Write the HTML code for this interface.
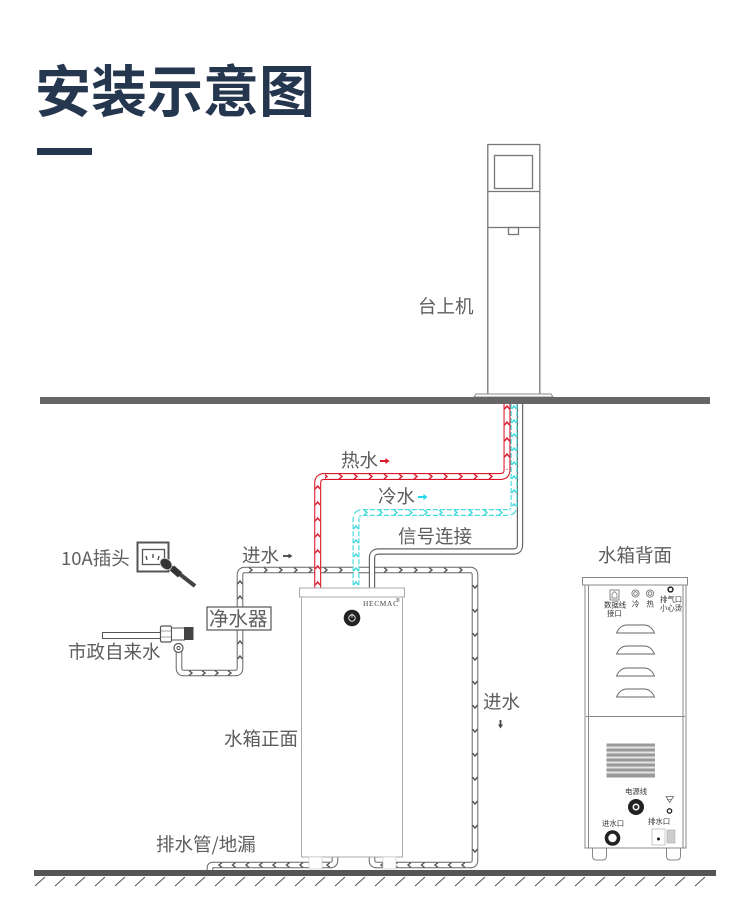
<!DOCTYPE html>
<html><head><meta charset="utf-8"><style>
html,body{margin:0;padding:0;background:#fff;width:750px;height:922px;overflow:hidden}
svg{display:block}
text{font-family:"Noto Sans CJK SC","Liberation Sans",sans-serif;fill:#5e5e5e}
</style></head><body>
<svg width="750" height="922" viewBox="0 0 750 922" xmlns="http://www.w3.org/2000/svg">
<defs>
<pattern id="pH" patternUnits="userSpaceOnUse" x="320" y="474" width="15" height="5"><path d="M4 0l3 2.5l-3 2.5" fill="none" stroke="#d8182a" stroke-width="1.4"/></pattern>
<pattern id="pHv" patternUnits="userSpaceOnUse" x="315.2" y="400" width="5" height="16"><path d="M0 9l2.5-3l2.500 3" fill="none" stroke="#d8182a" stroke-width="1.4"/></pattern>
<pattern id="pHv2" patternUnits="userSpaceOnUse" x="504.5" y="400" width="5" height="16"><path d="M0 9l2.5-3l2.5 3" fill="none" stroke="#d8182a" stroke-width="1.4"/></pattern>
<pattern id="pC" patternUnits="userSpaceOnUse" x="360" y="510" width="15" height="5"><path d="M4 0l3 2.5l-3 2.5" fill="none" stroke="#3fd8d8" stroke-width="1.4"/></pattern>
<pattern id="pCv" patternUnits="userSpaceOnUse" x="353.5" y="520" width="5" height="14"><path d="M0 9l2.5-3l2.5 3" fill="none" stroke="#3fd8d8" stroke-width="1.4"/></pattern>
<pattern id="pCv2" patternUnits="userSpaceOnUse" x="511.5" y="400" width="5" height="14"><path d="M0 9l2.5-3l2.5 3" fill="none" stroke="#3fd8d8" stroke-width="1.4"/></pattern>
<pattern id="pG" patternUnits="userSpaceOnUse" x="245" y="567.500" width="15" height="5"><path d="M4 0l3 2.5l-3 2.5" fill="none" stroke="#555" stroke-width="1.4"/></pattern>
<pattern id="pGd" patternUnits="userSpaceOnUse" x="472.500" y="575" width="5" height="24"><path d="M0 10l2.5 3l2.5-3" fill="none" stroke="#555" stroke-width="1.4"/></pattern>
<pattern id="pGl" patternUnits="userSpaceOnUse" x="215" y="862.500" width="13.500" height="5"><path d="M7 0l-3 2.5l3 2.5" fill="none" stroke="#555" stroke-width="1.4"/></pattern>
<pattern id="pGu" patternUnits="userSpaceOnUse" x="237.500" y="575" width="5" height="15"><path d="M0 9l2.5-3l2.5 3" fill="none" stroke="#555" stroke-width="1.4"/></pattern>
<pattern id="pGb" patternUnits="userSpaceOnUse" x="185" y="670.500" width="13" height="5"><path d="M4 0l3 2.5l-3 2.5" fill="none" stroke="#555" stroke-width="1.4"/></pattern>
</defs>

<!-- title -->
<text x="35" y="112" font-size="56" font-weight="700" style="fill:#25364f">安装示意图</text>
<rect x="37" y="148" width="55" height="7" fill="#25364f"/>

<!-- kiosk -->
<g fill="none" stroke="#777" stroke-width="1.300">
<rect x="487.800" y="144.500" width="52" height="250"/>
<rect x="494.500" y="155.500" width="38" height="33"/>
<path d="M488 191.500H540M488 227.500H540"/>
<rect x="508.500" y="227.500" width="10" height="7"/>
</g>
<path d="M474 397l2-3H551l2 3z" fill="#fff" stroke="#888" stroke-width="1"/>
<rect x="40" y="397" width="670" height="7" fill="#666"/>

<!-- inlet pipe -->
<g fill="none" stroke-linejoin="round">
<path d="M372 857V860Q372 865 377 865H470Q475 865 475 860V575Q475 570 470 570H245Q240 570 240 575V668Q240 673 235 673H184Q179 673 179 668V650" stroke="#666" stroke-width="6.600"/>
<path d="M372 857V860Q372 865 377 865H470Q475 865 475 860V575Q475 570 470 570H245Q240 570 240 575V668Q240 673 235 673H184Q179 673 179 668V650" stroke="#fff" stroke-width="4.600"/>
<path d="M210 871V868Q210 865 213 865H330Q335 865 335 860V857" stroke="#666" stroke-width="6.600"/>
<path d="M210 871V868Q210 865 213 865H330Q335 865 335 860V857" stroke="#fff" stroke-width="4.600"/>
</g>
<rect x="245" y="567.500" width="225" height="5" fill="url(#pG)"/>
<rect x="472.500" y="575" width="5" height="285" fill="url(#pGd)"/>
<rect x="237.500" y="575" width="5" height="95" fill="url(#pGu)"/>
<rect x="185" y="670.500" width="50" height="5" fill="url(#pGb)"/>
<rect x="215" y="862.500" width="115" height="5" fill="url(#pGl)"/>
<rect x="378" y="862.500" width="92" height="5" fill="url(#pGl)"/>

<!-- signal -->
<g fill="none">
<path d="M520 404V545Q520 551.500 513 551.500H379Q372 551.500 372 558V590" stroke="#666" stroke-width="6.400"/>
<path d="M520 404V545Q520 551.500 513 551.500H379Q372 551.500 372 558V590" stroke="#fff" stroke-width="4"/>
<!-- cold -->
<path d="M514 404V506Q514 512.500 507 512.500H363Q356 512.500 356 519V590" stroke="#4adcdc" stroke-width="7" stroke-dasharray="5 2"/>
<path d="M514 404V506Q514 512.500 507 512.500H363Q356 512.500 356 519V590" stroke="#fff" stroke-width="4.600"/>
<!-- hot -->
<path d="M507 404V470Q507 476.500 500 476.500H324.500Q317.700 476.500 317.700 483V590" stroke="#d8182a" stroke-width="7"/>
<path d="M507 404V470Q507 476.500 500 476.500H324.500Q317.700 476.500 317.700 483V590" stroke="#fff" stroke-width="4.800"/>
</g>
<rect x="325" y="474" width="175" height="5" fill="url(#pH)"/>
<rect x="315.200" y="484" width="5" height="104" fill="url(#pHv)"/>
<rect x="504.500" y="404" width="5" height="66" fill="url(#pHv2)"/>
<rect x="364" y="510" width="144" height="5" fill="url(#pC)"/>
<rect x="353.500" y="520" width="5" height="68" fill="url(#pCv)"/>
<rect x="511.500" y="404" width="5" height="102" fill="url(#pCv2)"/>

<!-- front tank -->
<rect x="301.500" y="596" width="101" height="261" fill="#fff" stroke="#aaa" stroke-width="1"/>
<rect x="299.500" y="588" width="105" height="9" fill="#fff" stroke="#aaa" stroke-width="1"/>
<rect x="309" y="857" width="13" height="12" fill="#fff" stroke="#ccc" stroke-width=".7"/>
<rect x="383" y="857" width="13" height="12" fill="#fff" stroke="#ccc" stroke-width=".7"/>
<circle cx="352" cy="618" r="8.300" fill="#222"/>
<circle cx="352" cy="618" r="3.200" fill="none" stroke="#ddd" stroke-width="1"/>
<path d="M352 613.500v4" stroke="#ddd" stroke-width="1"/>
<text x="363" y="606" style="font-family:'Liberation Serif',serif;fill:#444" font-size="7.400" textLength="35">HECMAC</text>
<text x="396" y="602" font-size="5" style="font-family:'Liberation Sans',sans-serif;fill:#444">®</text>

<!-- bottom floor -->
<rect x="34" y="870" width="682" height="6" fill="#555"/>
<path d="M35 886l10-9M55 886l10-9M75 886l10-9M95 886l10-9M115 886l10-9M135 886l10-9M155 886l10-9M175 886l10-9M195 886l10-9M215 886l10-9M235 886l10-9M255 886l10-9M275 886l10-9M295 886l10-9M315 886l10-9M335 886l10-9M355 886l10-9M375 886l10-9M395 886l10-9M415 886l10-9M435 886l10-9M455 886l10-9M475 886l10-9M495 886l10-9M515 886l10-9M535 886l10-9M555 886l10-9M575 886l10-9M595 886l10-9M615 886l10-9M635 886l10-9M655 886l10-9M675 886l10-9M695 886l10-9" stroke="#555" stroke-width="1" fill="none"/>

<!-- purifier -->
<rect x="207" y="607" width="64" height="23" fill="#fff" stroke="#555" stroke-width="1.200"/>
<text x="209" y="625.500" font-size="19.500">净水器</text>

<!-- socket -->
<rect x="137.500" y="542.500" width="31" height="29" fill="#fff" stroke="#555" stroke-width="2"/>
<rect x="142.500" y="549.500" width="22" height="15" fill="#fff" stroke="#555" stroke-width="1.300"/>
<path d="M146 556l1 4M153 554v4M159 556l-1 4" stroke="#444" stroke-width="1.300"/>
<path d="M168 565L195 586" stroke="#444" stroke-width="4"/>
<ellipse cx="166" cy="564" rx="6.500" ry="5" fill="#333" stroke="#ccc" stroke-width=".8" transform="rotate(40 166 564)"/>
<path d="M172 568L180 575" stroke="#333" stroke-width="6.500"/>

<!-- tap -->
<rect x="102.500" y="632.500" width="58" height="6" fill="#fff" stroke="#555" stroke-width="1"/>
<rect x="160.500" y="626" width="11" height="16" rx="1.500" fill="#fff" stroke="#555" stroke-width="1.200"/>
<path d="M161 631h10M161 637h10" stroke="#888" stroke-width=".8"/>
<rect x="171.500" y="628" width="13" height="12" fill="#fff" stroke="#555" stroke-width="1"/>
<rect x="184" y="627" width="9.500" height="13" fill="#444"/>
<circle cx="178.500" cy="648" r="4.500" fill="#fff" stroke="#555" stroke-width="1.200"/>
<circle cx="178.500" cy="648" r="1.600" fill="#fff" stroke="#555" stroke-width="1"/>

<!-- back tank -->
<g fill="#fff" stroke="#888" stroke-width="1">
<path d="M592.500 848v8q0 4 4 4h6q4 0 4-4v-8z"/>
<path d="M666.500 848v8q0 4 4 4h6q4 0 4-4v-8z"/>
<rect x="585" y="584" width="101" height="264"/>
</g>
<path d="M588.500 585V848M683 585V848M586 716.500H685" stroke="#888" stroke-width="1" fill="none"/>
<rect x="582.500" y="577.500" width="105" height="7.500" fill="#fff" stroke="#888" stroke-width="1"/>
<rect x="610" y="590" width="9" height="10" fill="none" stroke="#666" stroke-width=".8"/>
<path d="M612 598v-4l2.500-2.500l2.500 2.500v4z" fill="none" stroke="#666" stroke-width=".7"/>
<g fill="none" stroke="#777" stroke-width=".9">
<circle cx="635.500" cy="593.500" r="3.600"/><circle cx="635.500" cy="593.500" r="1.800"/>
<circle cx="650" cy="593.500" r="3.600"/><circle cx="650" cy="593.500" r="1.800"/>
</g>
<circle cx="670.500" cy="589.500" r="2.400" fill="none" stroke="#222" stroke-width="1.500"/>
<g fill="#fff" stroke="#666" stroke-width=".9">
<path d="M616.500 633Q620 625 627 625H644Q651 625 654.500 633z"/>
<path d="M616.500 654Q620 646 627 646H644Q651 646 654.500 654z"/>
<path d="M616.500 676Q620 668 627 668H644Q651 668 654.500 676z"/>
<path d="M616.500 697Q620 689 627 689H644Q651 689 654.500 697z"/>
</g>
<g>
<text x="604" y="607.500" font-size="7.400" style="fill:#333">数据线</text>
<text x="607" y="616" font-size="7.400" style="fill:#333">接口</text>
<text x="632" y="606.500" font-size="7.400" style="fill:#333">冷</text>
<text x="646.500" y="606.500" font-size="7.400" style="fill:#333">热</text>
<text x="660" y="602" font-size="7.400" style="fill:#333">排气口</text>
<text x="660" y="610.500" font-size="7.400" style="fill:#333">小心烫</text>
<text x="625" y="794" font-size="7.400" style="fill:#333">电源线</text>
<text x="602" y="826" font-size="7.400" style="fill:#333">进水口</text>
<text x="648" y="824" font-size="7.400" style="fill:#333">排水口</text>
</g>
<rect x="606.500" y="743.500" width="48.500" height="34" fill="#999"/>
<path d="M606.500 747.500H655M606.500 752.500H655M606.500 757.500H655M606.500 762.500H655M606.500 767.500H655M606.500 772.500H655" stroke="#e4e4e4" stroke-width="2"/>
<circle cx="636" cy="807" r="8" fill="#222"/>
<circle cx="636" cy="807" r="3.500" fill="#fff"/>
<circle cx="636" cy="807" r="2" fill="#333"/>
<circle cx="612.500" cy="838" r="6" fill="#fff" stroke="#222" stroke-width="3.600"/>
<circle cx="669.500" cy="811" r="2.200" fill="#fff" stroke="#222" stroke-width="1.300"/>
<path d="M666 796.500h7.500l-3.750 6z" fill="none" stroke="#666" stroke-width=".8"/>
<path d="M667 799.500h5" stroke="#666" stroke-width=".6"/>
<rect x="652" y="829" width="13" height="16" fill="#fff" stroke="#bbb" stroke-width=".8"/>
<rect x="667" y="830" width="8" height="13" fill="#ccc" stroke="#aaa" stroke-width=".6"/>
<circle cx="658.500" cy="839" r="1.500" fill="#222"/>

<!-- labels -->
<g font-size="18.500">
<text x="418" y="313">台上机</text>
<text x="341" y="467">热水</text>
<text x="378" y="503">冷水</text>
<text x="398" y="543">信号连接</text>
<text x="598" y="562">水箱背面</text>
<text x="242" y="562">进水</text>
<text x="61" y="565">10A插头</text>
<text x="68" y="658.500">市政自来水</text>
<text x="483" y="708.500">进水</text>
<text x="224" y="745.500">水箱正面</text>
<text x="156" y="851">排水管/地漏</text>
</g>
<!-- arrows -->
<path d="M380 461h6.500" stroke="#d8182a" stroke-width="2"/><path d="M385.500 458l4 3l-4 3z" fill="#d8182a"/>
<path d="M418 497h6.500" stroke="#22d8e8" stroke-width="2"/><path d="M423.500 494l4 3l-4 3z" fill="#22d8e8"/>
<path d="M283 556h6.500" stroke="#444" stroke-width="1.800"/><path d="M288.500 553.500l4 2.500l-4 2.500z" fill="#444"/>
<path d="M500.500 720v5" stroke="#444" stroke-width="1.800"/><path d="M498 724.500l2.500 4l2.500-4z" fill="#444"/>
</svg>
</body></html>
